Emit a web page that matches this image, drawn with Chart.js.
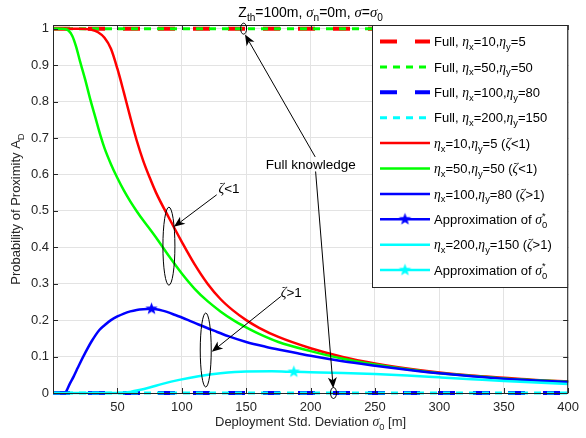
<!DOCTYPE html>
<html>
<head>
<meta charset="utf-8">
<script src="https://cdn.jsdelivr.net/npm/chart.js@4.4.1/dist/chart.umd.min.js"></script>
<style>
  html, body { margin: 0; padding: 0; background: #fff; }
</style>
</head>
<body>
<canvas id="chart" width="586" height="438"></canvas>
<script>
// ---- data ----
const xTicks = [50, 100, 150, 200, 250, 300, 350, 400];
const yTicks = [0, 0.1, 0.2, 0.3, 0.4, 0.5, 0.6, 0.7, 0.8, 0.9, 1];

// "full knowledge" curves are flat
const fullX = [0, 400];
const fullOne = [1, 1];
const fullZero = [0, 0];

// eta_x=10, eta_y=5
const redX = [0, 20, 30, 35, 40, 45, 50, 55, 60, 65, 70, 75, 80, 90, 100, 110, 120, 130, 140, 150, 160, 175, 200, 225, 250, 275, 300, 325, 350, 375, 400];
const redY = [1, 1, 0.997, 0.99, 0.975, 0.945, 0.89, 0.825, 0.757, 0.693, 0.638, 0.592, 0.55, 0.481, 0.415, 0.353, 0.30, 0.258, 0.226, 0.2, 0.179, 0.154, 0.123, 0.099, 0.081, 0.067, 0.056, 0.048, 0.042, 0.036, 0.032];

// eta_x=50, eta_y=50
const greenX = [0, 8, 12, 15, 18, 21, 25, 29, 33, 37, 40, 45, 50, 55, 60, 65, 70, 75, 80, 90, 100, 110, 120, 130, 140, 150, 160, 175, 200, 225, 250, 275, 300, 325, 350, 375, 400];
const greenY = [1, 1, 0.995, 0.98, 0.95, 0.91, 0.86, 0.805, 0.755, 0.705, 0.672, 0.628, 0.59, 0.556, 0.526, 0.499, 0.474, 0.451, 0.427, 0.376, 0.328, 0.286, 0.252, 0.224, 0.2, 0.18, 0.162, 0.14, 0.115, 0.094, 0.078, 0.065, 0.054, 0.047, 0.04, 0.035, 0.031];

// eta_x=100, eta_y=80
const blueX = [0, 8, 10, 13, 16, 18.4, 20, 25, 30, 36, 40, 45, 50, 55, 60, 65, 70, 76.5, 85, 95, 105, 113, 125, 136, 150, 165, 177, 190, 200, 225, 250, 275, 300, 325, 350, 375, 400];
const blueY = [0, 0, 0.003, 0.025, 0.045, 0.063, 0.075, 0.11, 0.142, 0.173, 0.186, 0.2, 0.21, 0.218, 0.224, 0.228, 0.23, 0.231, 0.226, 0.214, 0.2, 0.188, 0.171, 0.156, 0.14, 0.127, 0.118, 0.109, 0.102, 0.087, 0.075, 0.064, 0.054, 0.046, 0.039, 0.034, 0.03];

// eta_x=200, eta_y=150
const cyanX = [0, 50, 55, 60, 67, 75, 85, 98, 113, 130, 150, 170, 187, 200, 225, 250, 275, 300, 325, 350, 375, 400];
const cyanY = [0, 0, 0.001, 0.003, 0.008, 0.015, 0.025, 0.036, 0.046, 0.054, 0.059, 0.0595, 0.058, 0.057, 0.055, 0.052, 0.048, 0.043, 0.038, 0.033, 0.029, 0.025];

// approximations of sigma_0*
const blueStarX = [76.5];
const blueStarY = [0.231];
const cyanStarX = [187];
const cyanStarY = [0.058];

// ---- helpers ----
const SANS = '"Liberation Sans", Arial, sans-serif';
const GREEK = '"Liberation Serif", serif';

function pts(xs, ys) {
  return xs.map((x, i) => ({ x: x, y: ys[i] }));
}

function makeStar(color, r) {
  const c = document.createElement('canvas');
  const s = Math.ceil(r * 2) + 2;
  c.width = c.height = s;
  const g = c.getContext('2d');
  g.fillStyle = color;
  g.beginPath();
  for (let i = 0; i < 10; i++) {
    const rad = i % 2 ? r * 0.42 : r;
    const a = -Math.PI / 2 + i * Math.PI / 5;
    g.lineTo(s / 2 + rad * Math.cos(a), s / 2 + rad * Math.sin(a));
  }
  g.closePath();
  g.fill();
  return c;
}

// tiny TeX-ish parser: _x, _{xx}, ^x
function parseTex(s) {
  const out = [];
  let i = 0;
  while (i < s.length) {
    const c = s[i];
    if (c === '_' || c === '^') {
      let t;
      if (s[i + 1] === '{') {
        const j = s.indexOf('}', i);
        t = s.slice(i + 2, j);
        i = j + 1;
      } else {
        t = s[i + 1];
        i += 2;
      }
      out.push({ t: t, mode: c === '_' ? 'sub' : 'sup' });
    } else {
      out.push({ t: c, mode: 'n' });
      i++;
    }
  }
  return out;
}

function charFont(ch, size) {
  if (/[\u0370-\u03ff]/.test(ch)) return 'italic ' + (size * 1.05).toFixed(1) + 'px ' + GREEK;
  return size.toFixed(1) + 'px ' + SANS;
}

function layoutTex(ctx, str, size) {
  const runs = parseTex(str);
  const items = [];
  let cx = 0;
  let prev = null;
  runs.forEach(r => {
    const s = r.mode === 'n' ? size : size * 0.72;
    const dy = r.mode === 'sub' ? size * 0.3 : r.mode === 'sup' ? -size * 0.42 : 0;
    let start = cx;
    if (r.mode !== 'n' && prev && prev.mode !== 'n' && prev.mode !== r.mode) start = prev.start;
    let x = start;
    for (const ch of r.t) {
      ctx.font = charFont(ch, s);
      items.push({ ch: ch, font: ctx.font, x: x, dy: dy });
      x += ctx.measureText(ch).width;
    }
    const g = { mode: r.mode, start: start, end: x };
    cx = prev && r.mode !== 'n' && start !== cx ? Math.max(x, prev.end) : x;
    prev = g;
  });
  return { items: items, width: cx };
}

function drawTex(ctx, str, x, y, size, align, color) {
  ctx.save();
  const lay = layoutTex(ctx, str, size);
  let x0 = x;
  if (align === 'center') x0 = x - lay.width / 2;
  else if (align === 'right') x0 = x - lay.width;
  ctx.fillStyle = color || '#000';
  ctx.textBaseline = 'alphabetic';
  ctx.textAlign = 'left';
  const base = y + size * 0.36;
  lay.items.forEach(it => {
    ctx.font = it.font;
    ctx.fillText(it.ch, x0 + it.x, base + it.dy);
  });
  ctx.restore();
}

function arrow(ctx, x1, y1, x2, y2) {
  const ang = Math.atan2(y2 - y1, x2 - x1);
  const len = 11, half = 4.5, notch = 8;
  const bx = x2 - len * Math.cos(ang), by = y2 - len * Math.sin(ang);
  const nx = x2 - notch * Math.cos(ang), ny = y2 - notch * Math.sin(ang);
  ctx.beginPath();
  ctx.moveTo(x1, y1);
  ctx.lineTo(nx, ny);
  ctx.stroke();
  ctx.beginPath();
  ctx.moveTo(x2, y2);
  ctx.lineTo(bx + half * Math.sin(ang), by - half * Math.cos(ang));
  ctx.lineTo(nx, ny);
  ctx.lineTo(bx - half * Math.sin(ang), by + half * Math.cos(ang));
  ctx.closePath();
  ctx.fill();
}

// ---- datasets (later ones drawn on top, like MATLAB) ----
const RED = '#ff0000', GREEN = '#00ff00', BLUE = '#0000ff', CYAN = '#00ffff';
const blueStar = makeStar(BLUE, 6.5);
const cyanStar = makeStar(CYAN, 6.5);

const datasets = [
  { label: 'Full, η_x=10,η_y=5', data: pts(fullX, fullOne), borderColor: RED, borderWidth: 4, borderDash: [17, 18] },
  { label: 'Full, η_x=50,η_y=50', data: pts(fullX, fullOne), borderColor: GREEN, borderWidth: 3, borderDash: [7, 6] },
  { label: 'Full, η_x=100,η_y=80', data: pts(fullX, fullZero), borderColor: BLUE, borderWidth: 4, borderDash: [17, 18] },
  { label: 'Full, η_x=200,η_y=150', data: pts(fullX, fullZero), borderColor: CYAN, borderWidth: 3, borderDash: [7, 6] },
  { label: 'η_x=10,η_y=5 (ζ<1)', data: pts(redX, redY), borderColor: RED, borderWidth: 2.5 },
  { label: 'η_x=50,η_y=50 (ζ<1)', data: pts(greenX, greenY), borderColor: GREEN, borderWidth: 2.5 },
  { label: 'η_x=100,η_y=80 (ζ>1)', data: pts(blueX, blueY), borderColor: BLUE, borderWidth: 2.5 },
  { label: 'Approximation of σ_0^*', data: pts(blueStarX, blueStarY), borderColor: BLUE, borderWidth: 2.5, showLine: false, pointStyle: blueStar, pointRadius: 6, star: true },
  { label: 'η_x=200,η_y=150 (ζ>1)', data: pts(cyanX, cyanY), borderColor: CYAN, borderWidth: 2.5 },
  { label: 'Approximation of σ_0^*', data: pts(cyanStarX, cyanStarY), borderColor: CYAN, borderWidth: 2.5, showLine: false, pointStyle: cyanStar, pointRadius: 6, star: true }
];
datasets.forEach((d, i) => {
  d.order = datasets.length - i;
  d.fill = false;
  d.clip = 5;
  d.cubicInterpolationMode = 'monotone';
  if (!d.star) d.pointRadius = 0;
  d.borderCapStyle = 'butt';
});

// ---- annotations (data coordinates) ----
const notes = {
  fullText: { x: 165.2, y: 0.627, text: 'Full knowledge' },
  fullArrows: [
    { from: [203.6, 0.648], to: [149.1, 0.984] },
    { from: [203.9, 0.608], to: [217.6, 0.013] }
  ],
  fullEllipses: [[148, 1.0, 3, 5.5], [217.8, 0.0, 3, 5.5]],
  lessText: { x: 128.5, y: 0.561, text: 'ζ<1' },
  lessArrow: { from: [127.1, 0.544], to: [93.9, 0.456] },
  lessEllipse: [90, 0.403, 6, 39],
  moreText: { x: 176.8, y: 0.278, text: 'ζ>1' },
  moreArrow: { from: [176.9, 0.265], to: [123.3, 0.113] },
  moreEllipse: [118.6, 0.118, 5.5, 37]
};

const matlabPlugin = {
  id: 'matlab',
  afterDatasetsDraw(chart) {
    const ctx = chart.ctx;
    const a = chart.chartArea;
    const xs = chart.scales.x, ys = chart.scales.y;
    const px = v => xs.getPixelForValue(v);
    const py = v => ys.getPixelForValue(v);

    // axes box with inward ticks
    ctx.save();
    ctx.strokeStyle = '#262626';
    ctx.lineWidth = 1;
    ctx.strokeRect(a.left + 0.5, a.top + 0.5, a.right - a.left - 1, a.bottom - a.top);
    ctx.beginPath();
    xTicks.forEach(t => {
      const x = Math.round(px(t)) + 0.5;
      ctx.moveTo(x, a.bottom); ctx.lineTo(x, a.bottom - 5);
      ctx.moveTo(x, a.top); ctx.lineTo(x, a.top + 5);
    });
    yTicks.forEach(t => {
      const y = Math.round(py(t)) + 0.5;
      ctx.moveTo(a.left, y); ctx.lineTo(a.left + 5, y);
      ctx.moveTo(a.right, y); ctx.lineTo(a.right - 5, y);
    });
    ctx.stroke();
    ctx.restore();

    // annotations
    ctx.save();
    ctx.strokeStyle = '#000';
    ctx.fillStyle = '#000';
    ctx.lineWidth = 1;
    const ell = e => {
      ctx.beginPath();
      ctx.ellipse(px(e[0]), py(e[1]), e[2], e[3], 0, 0, Math.PI * 2);
      ctx.stroke();
    };
    const arr = r => arrow(ctx, px(r.from[0]), py(r.from[1]), px(r.to[0]), py(r.to[1]));
    notes.fullEllipses.forEach(ell);
    notes.fullArrows.forEach(arr);
    ell(notes.lessEllipse);
    arr(notes.lessArrow);
    ell(notes.moreEllipse);
    arr(notes.moreArrow);
    [notes.fullText, notes.lessText, notes.moreText].forEach(t => {
      drawTex(ctx, t.text, px(t.x), py(t.y), 13.5, 'left', '#000');
    });
    ctx.restore();

    // legend
    ctx.save();
    const lx = 372, ly = a.top, lw = a.right - 372, lh = 263;
    ctx.fillStyle = '#fff';
    ctx.fillRect(lx, ly, lw, lh);
    ctx.strokeStyle = '#262626';
    ctx.lineWidth = 1;
    ctx.strokeRect(lx + 0.5, ly + 0.5, lw - 1, lh - 1);
    chart.data.datasets.forEach((d, i) => {
      const y = ly + 16.5 + i * 25.4;
      ctx.save();
      ctx.strokeStyle = d.borderColor;
      ctx.lineWidth = d.borderWidth;
      ctx.setLineDash(d.borderDash || []);
      ctx.beginPath();
      ctx.moveTo(380, y);
      ctx.lineTo(430, y);
      ctx.stroke();
      if (d.star) ctx.drawImage(d.pointStyle, 405 - d.pointStyle.width / 2, y - d.pointStyle.height / 2);
      ctx.restore();
      drawTex(ctx, d.label, 434, y, 13, 'left', '#000');
    });
    ctx.restore();
  },
  afterDraw(chart) {
    const ctx = chart.ctx;
    const a = chart.chartArea;
    const cx = (a.left + a.right) / 2;
    drawTex(ctx, 'Z_{th}=100m, σ_n=0m, σ=σ_0', cx, 12, 14, 'center', '#000');
    drawTex(ctx, 'Deployment Std. Deviation σ_0 [m]', cx, 421, 13, 'center', '#262626');
    ctx.save();
    ctx.translate(15, (a.top + a.bottom) / 2);
    ctx.rotate(-Math.PI / 2);
    drawTex(ctx, 'Probability of Proximity A_D', 0, 0, 13, 'center', '#262626');
    ctx.restore();
  }
};

new Chart(document.getElementById('chart'), {
  type: 'line',
  data: { datasets: datasets },
  options: {
    responsive: false,
    animation: false,
    events: [],
    layout: { padding: { left: 0, top: 25, right: 13, bottom: 0 } },
    plugins: { legend: { display: false }, tooltip: { enabled: false }, title: { display: false } },
    scales: {
      x: {
        type: 'linear',
        min: 0,
        max: 400,
        afterFit(s) { s.height = 45; },
        grid: { color: '#e3e3e3', drawTicks: false },
        border: { display: false },
        ticks: {
          stepSize: 50,
          includeBounds: false,
          padding: 7,
          maxRotation: 0,
          autoSkip: false,
          color: '#262626',
          font: { family: SANS, size: 13 },
          callback: v => (v === 0 ? '' : String(v))
        }
      },
      y: {
        type: 'linear',
        min: 0,
        max: 1.01,
        afterFit(s) { s.width = 53; },
        grid: { color: '#e3e3e3', drawTicks: false },
        border: { display: false },
        ticks: {
          stepSize: 0.1,
          includeBounds: false,
          padding: 4,
          autoSkip: false,
          color: '#262626',
          font: { family: SANS, size: 13 },
          callback: v => String(Math.round(v * 10) / 10)
        }
      }
    }
  },
  plugins: [matlabPlugin]
});
</script>
</body>
</html>
